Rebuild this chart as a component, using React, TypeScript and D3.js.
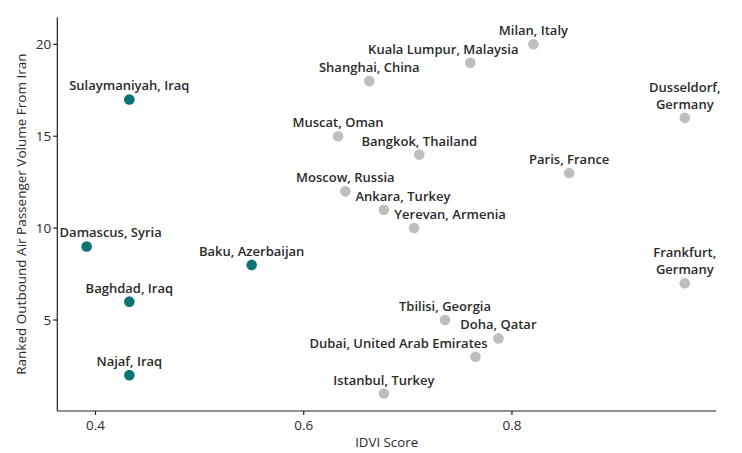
import React from "react";
import * as d3 from "d3";

const cities = [
  "Sulaymaniyah, Iraq", "Damascus, Syria", "Baghdad, Iraq", "Najaf, Iraq", "Baku, Azerbaijan",
  "Milan, Italy", "Kuala Lumpur, Malaysia", "Shanghai, China", "Dusseldorf,\nGermany", "Muscat, Oman",
  "Bangkok, Thailand", "Paris, France", "Moscow, Russia", "Ankara, Turkey", "Yerevan, Armenia",
  "Frankfurt,\nGermany", "Tbilisi, Georgia", "Doha, Qatar", "Dubai, United Arab Emirates", "Istanbul, Turkey",
];
const idvi = [
  0.4325, 0.3915, 0.4325, 0.4325, 0.550,
  0.8206, 0.760, 0.663, 0.966, 0.633,
  0.711, 0.855, 0.640, 0.677, 0.706,
  0.966, 0.7357, 0.787, 0.765, 0.677,
];
const rank = [17, 9, 6, 2, 8, 20, 19, 18, 16, 15, 14, 13, 12, 11, 10, 7, 5, 4, 3, 1];
const highlighted = [true, true, true, true, true, false, false, false, false, false, false, false, false, false, false, false, false, false, false, false];
// horizontal label nudges (px) for labels moved off-centre
const labelNudge: Record<string, number> = {
  "Damascus, Syria": 24,
  "Kuala Lumpur, Malaysia": -27,
  "Ankara, Turkey": 19,
  "Yerevan, Armenia": 36,
  "Dubai, United Arab Emirates": -77,
};
const xTicks = [0.4, 0.6, 0.8];
const yTicks = [5, 10, 15, 20];

const W = 742, H = 453;
const left = 57.3, right = 716, top = 17.3, bottom = 411;
const FONT = "'Open Sans', 'DejaVu Sans', sans-serif";
const TXT = "#2b2b2b";

export default function App() {
  const x = d3.scaleLinear().domain([0.3633, 0.996]).range([left, right]);
  const y = d3.scaleLinear().domain([0.05, 21.47]).range([bottom, top]);
  return (
    <svg width={W} height={H} style={{ position: "absolute", left: 0, top: 0, background: "#fff" }} fontFamily={FONT}>
      <rect width={W} height={H} fill="#fff" />
      <line x1={left} x2={left} y1={top} y2={bottom} stroke="#222" strokeWidth={1.2} />
      <line x1={left} x2={right} y1={bottom} y2={bottom} stroke="#222" strokeWidth={1.2} />
      {xTicks.map((t) => (
        <g key={"x" + t}>
          <line x1={x(t)} x2={x(t)} y1={bottom} y2={bottom + 4} stroke="#222" strokeWidth={1.2} />
          <text x={x(t)} y={430} textAnchor="middle" fontSize={13.5} fill={TXT}>{d3.format(".1f")(t)}</text>
        </g>
      ))}
      {yTicks.map((t) => (
        <g key={"y" + t}>
          <line x1={left - 4} x2={left} y1={y(t)} y2={y(t)} stroke="#222" strokeWidth={1.2} />
          <text x={left - 6} y={y(t)} dy="0.35em" textAnchor="end" fontSize={13.5} fill={TXT}>{t}</text>
        </g>
      ))}
      <text x={(left + right) / 2} y={447} textAnchor="middle" fontSize={13.3} fill={TXT}>IDVI Score</text>
      <text transform={`translate(26,${(top + bottom) / 2}) rotate(-90)`} textAnchor="middle" fontSize={13.5} fill={TXT}>
        Ranked Outbound Air Passenger Volume From Iran
      </text>
      {cities.map((c, i) => (
        <circle key={"p" + i} cx={x(idvi[i])} cy={y(rank[i])} r={5.3} fill={highlighted[i] ? "#0b7373" : "#bdbdc2"} />
      ))}
      {cities.map((c, i) => {
        const lines = c.split("\n");
        const cx = x(idvi[i]) + (labelNudge[c] || 0);
        const cy = y(rank[i]);
        return (
          <text key={"l" + i} x={cx} y={cy - 9 - (lines.length - 1) * 17} textAnchor="middle" fontSize={13} fontWeight={600} fill={TXT}>
            {lines.map((ln, j) => (
              <tspan key={j} x={cx} dy={j === 0 ? 0 : 17}>{ln}</tspan>
            ))}
          </text>
        );
      })}
    </svg>
  );
}
